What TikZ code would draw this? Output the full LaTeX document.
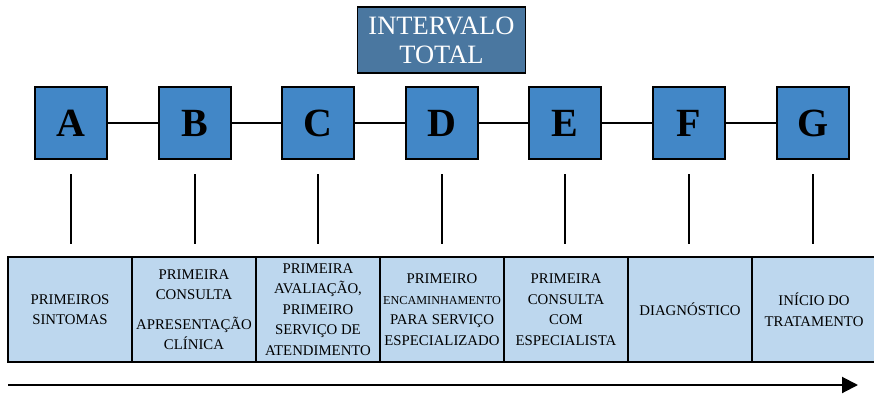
\documentclass[tikz,border=0pt]{standalone}
\usepackage{fontspec}
\setmainfont{Liberation Serif}
\usetikzlibrary{arrows.meta}
\definecolor{boxblue}{HTML}{4287C7}
\definecolor{titleblue}{HTML}{4A77A0}
\definecolor{cellblue}{HTML}{BDD7EE}
\tikzset{
  letterbox/.style={draw=black, line width=1.6pt, fill=boxblue, minimum width=72pt, minimum height=72pt, inner sep=0pt, font=\fontsize{40}{40}\selectfont\bfseries},
  cellbox/.style={draw=black, line width=2pt, fill=cellblue, minimum width=124pt, minimum height=105pt, inner sep=0pt, align=center, font=\fontsize{14.8}{20.5}\selectfont},
  titlebox/.style={draw=black, line width=1.6pt, fill=titleblue, minimum width=168pt, minimum height=66pt, inner sep=0pt, align=center, text=white, font=\fontsize{26.5}{29}\selectfont},
  conn/.style={line width=1.5pt},
}
\begin{document}
\begin{tikzpicture}[x=1pt,y=-1pt]
\useasboundingbox (0,0) rectangle (874,396);
\node[titlebox] (T) at (441.5,40) {INTERVALO\\TOTAL};
\foreach \n/\x in {A/71,B/195,C/318,D/442,E/565,F/689,G/813}{
  \node[letterbox] (\n) at (\x,123) {\n};
  \coordinate (\n t) at (\x,174);
  \coordinate (\n b) at (\x,244);
  \draw[conn] (\n t) -- (\n b);
}
\draw[conn] (A) -- (B) (B) -- (C) (C) -- (D) (D) -- (E) (E) -- (F) (F) -- (G);
\node[cellbox] (c1) at (70,309.5) {PRIMEIROS\\SINTOMAS};
\node[cellbox] (c2) at (194,309.5) {PRIMEIRA\\CONSULTA\\[9pt]APRESENTAÇÃO\\CLÍNICA};
\node[cellbox] (c3) at (318,309.5) {PRIMEIRA\\AVALIAÇÃO,\\PRIMEIRO\\SERVIÇO DE\\ATENDIMENTO};
\node[cellbox] (c4) at (442,309.5) {PRIMEIRO\\{\fontsize{12.2}{20.5}\selectfont ENCAMINHAMENTO}\\PARA SERVIÇO\\ESPECIALIZADO};
\node[cellbox] (c5) at (566,309.5) {PRIMEIRA\\CONSULTA\\COM\\ESPECIALISTA};
\node[cellbox] (c6) at (690,309.5) {DIAGNÓSTICO};
\node[cellbox] (c7) at (814,309.5) {INÍCIO DO\\TRATAMENTO};
\coordinate (arS) at (8,385);
\coordinate (arE) at (858,385);
\draw[line width=2pt, -{Triangle[length=16pt,width=16pt]}] (arS) -- (arE);
\end{tikzpicture}
\end{document}
